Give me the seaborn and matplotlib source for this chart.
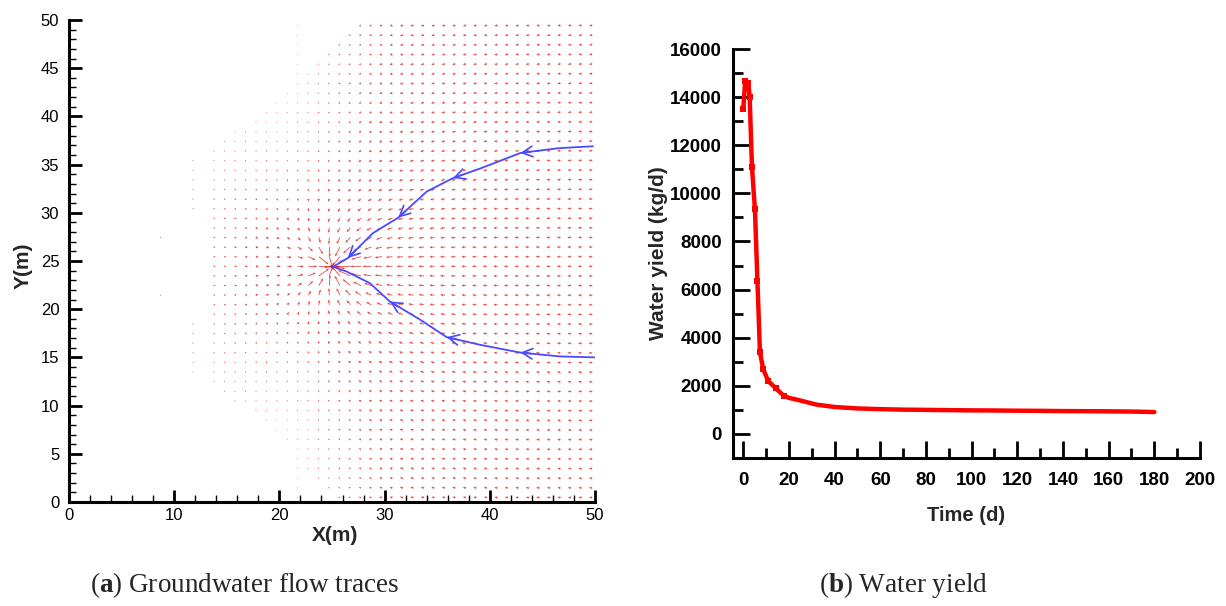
import numpy as np
import pandas as pd
import matplotlib
matplotlib.use("Agg")
import matplotlib.pyplot as plt
from matplotlib.ticker import MultipleLocator
import seaborn as sns

# ---------------- panel (b): water yield ----------------
time_d = [0, 0.8, 2.2, 2.8, 3.8, 5.1, 6.2, 7.3, 8.7, 10.9, 14.2, 17.8, 20, 25, 32,
          40, 50, 60, 70, 80, 90, 100, 110, 120, 130, 140, 150, 160, 170, 180]
yield_kgd = [13500, 14650, 14600, 14000, 11100, 9350, 6350, 3400, 2700, 2200, 1900,
             1580, 1500, 1390, 1220, 1120, 1060, 1030, 1010, 1000, 990, 980, 975,
             965, 960, 950, 945, 940, 930, 910]

# ---------------- panel (a): traced flow paths ----------------
upper_x = [49.8, 46.5, 42.9, 39.1, 36.5, 34.0, 32.4, 31.3, 28.9, 26.5, 25.1]
upper_y = [36.9, 36.7, 36.2, 34.6, 33.6, 32.2, 30.6, 29.5, 27.9, 25.3, 24.4]
upper_heads = [2, 4, 7, 9]
lower_x = [50.0, 46.7, 42.9, 39.1, 35.9, 33.4, 30.5, 28.6, 26.4, 25.1]
lower_y = [15.0, 15.1, 15.5, 16.3, 17.1, 18.9, 20.8, 22.7, 23.9, 24.4]
lower_heads = [2, 4, 6]

# mesh node columns (x position, lowest node y, highest node y)
mesh_col_x = [8.65, 8.65, 11.75, 11.75, 13.75, 14.75, 15.75, 16.75, 17.75, 18.75,
              19.75, 20.75, 21.75, 22.75, 23.75, 24.75, 25.75, 26.75, 27.75, 28.75,
              29.75, 30.75, 31.75, 32.75, 33.75, 34.75, 35.75, 36.75, 37.75, 38.75,
              39.75, 40.75, 41.75, 42.75, 43.75, 44.75, 45.75, 46.75, 47.75, 48.75,
              49.75]
mesh_col_ylo = [21.45, 27.45, 13.45, 30.45, 12.45, 11.45, 10.45, 10.45, 9.45, 8.45,
                7.45, 6.45, 0.45, 3.45, 2.45, 1.45, 0.45, 0.45, 0.45, 0.45,
                0.45, 0.45, 0.45, 0.45, 0.45, 0.45, 0.45, 0.45, 0.45, 0.45,
                0.45, 0.45, 0.45, 0.45, 0.45, 0.45, 0.45, 0.45, 0.45, 0.45, 0.45]
mesh_col_yhi = [21.45, 27.45, 18.45, 35.45, 36.45, 37.45, 38.45, 38.45, 39.45, 40.45,
                41.45, 42.45, 49.45, 44.45, 45.45, 46.45, 47.45, 48.45, 49.45, 49.45,
                49.45, 49.45, 49.45, 49.45, 49.45, 49.45, 49.45, 49.45, 49.45, 49.45,
                49.45, 49.45, 49.45, 49.45, 49.45, 49.45, 49.45, 49.45, 49.45, 49.45,
                49.45]

# pumping well and flow-field parameters
well_x, well_y = 25.1, 24.4
sink_strength = 2.2
regional_speed = 0.28
max_len = 1.5

# ---------------- style ----------------
sns.set_style("ticks")
plt.rcParams["font.family"] = ["Liberation Sans", "DejaVu Sans"]
plt.rcParams["mathtext.fontset"] = "custom"
plt.rcParams["mathtext.rm"] = "Liberation Serif"
plt.rcParams["mathtext.bf"] = "Liberation Serif:bold"

fig = plt.figure(figsize=(12.26, 6.06), dpi=100)
W, H = 1226, 606
axA = fig.add_axes([69 / W, 104 / H, 526 / W, 482 / H])
axB = fig.add_axes([733 / W, 148 / H, 467 / W, 409 / H])

# ---------------- panel (a) ----------------
nx, ny = [], []
for cx, lo, hi in zip(mesh_col_x, mesh_col_ylo, mesh_col_yhi):
    for yy in np.arange(lo, hi + 0.01, 1.0):
        nx.append(cx)
        ny.append(yy)
nx = np.array(nx)
ny = np.array(ny)
dx = nx - well_x
dy = ny - well_y
r2 = np.maximum(dx ** 2 + dy ** 2, 1e-6)
ramp = np.clip((nx - 18.0) / 14.0, 0, 1)
u = -sink_strength * dx / r2 - regional_speed * ramp
v = -sink_strength * dy / r2
mag = np.hypot(u, v)
fac = np.where(mag > max_len, max_len / np.maximum(mag, 1e-9), 1.0)
u, v = u * fac, v * fac

axA.quiver(nx, ny, u, v, angles="xy", scale_units="xy", scale=1,
           color="#e00000", alpha=0.7, width=0.0016, headwidth=3.2,
           headlength=3.5, headaxislength=3.0, minlength=0.6, zorder=2)

trace_color = "#4a4aff"
for xs, ys, heads in [(upper_x, upper_y, upper_heads), (lower_x, lower_y, lower_heads)]:
    df = pd.DataFrame({"x": xs, "y": ys})
    sns.lineplot(data=df, x="x", y="y", sort=False, estimator=None, ax=axA,
                 color=trace_color, lw=1.3, zorder=3)
    for i in heads:
        x0, y0 = xs[i], ys[i]
        x1, y1 = xs[i - 1], ys[i - 1]
        d = np.hypot(x1 - x0, y1 - y0)
        tx, ty = x0 + (x1 - x0) / d * 1.0, y0 + (y1 - y0) / d * 1.0
        axA.annotate("", xy=(x0, y0), xytext=(tx, ty),
                     arrowprops=dict(arrowstyle="->,head_length=0.75,head_width=0.38",
                                     color=trace_color, lw=1.2, shrinkA=0, shrinkB=0),
                     zorder=4)

axA.set_xlim(0, 50)
axA.set_ylim(0, 50)
axA.xaxis.set_major_locator(MultipleLocator(10))
axA.xaxis.set_minor_locator(MultipleLocator(2))
axA.yaxis.set_major_locator(MultipleLocator(5))
axA.yaxis.set_minor_locator(MultipleLocator(1))
axA.tick_params(which="major", direction="in", length=9, width=2, labelsize=12,
                colors="black")
axA.tick_params(which="minor", direction="in", length=5, width=1, colors="black")
axA.tick_params(axis="x", which="major", pad=4)
axA.tick_params(axis="y", which="major", pad=7)
for s in ["top", "right"]:
    axA.spines[s].set_visible(False)
for s in ["left", "bottom"]:
    axA.spines[s].set_linewidth(2.2)
    axA.spines[s].set_color("black")
axA.set_xlabel("X(m)", fontsize=15, fontweight="bold")
axA.set_ylabel("Y(m)", fontsize=15, fontweight="bold")
axA.xaxis.set_label_coords((335 - 69) / 526, (502 - 526) / 482)
axA.yaxis.set_label_coords((33 - 69) / 526, 0.49)

# ---------------- panel (b) ----------------
sns.lineplot(x=time_d, y=yield_kgd, ax=axB, color="red", lw=3.2, marker="s",
             markersize=4, markeredgewidth=0, markevery=list(range(12)),
             estimator=None, sort=False)
axB.set_xlim(-4.5, 200)
axB.set_ylim(-1000, 16000)
axB.xaxis.set_major_locator(MultipleLocator(20))
axB.xaxis.set_minor_locator(MultipleLocator(10))
axB.yaxis.set_major_locator(MultipleLocator(2000))
axB.yaxis.set_minor_locator(MultipleLocator(1000))
axB.tick_params(which="major", direction="in", length=12, width=2, labelsize=13.5,
                colors="black")
axB.tick_params(which="minor", direction="in", length=7, width=2, colors="black")
axB.tick_params(axis="x", which="major", pad=10)
axB.tick_params(axis="y", which="major", pad=8)
for lab in axB.get_xticklabels() + axB.get_yticklabels():
    lab.set_fontweight("bold")
for s in ["top", "right"]:
    axB.spines[s].set_visible(False)
for s in ["left", "bottom"]:
    axB.spines[s].set_linewidth(2.2)
    axB.spines[s].set_color("black")
axB.set_xlabel("Time (d)", fontsize=14.5, fontweight="bold")
axB.set_ylabel("Water yield (kg/d)", fontsize=15, fontweight="bold")
axB.xaxis.set_label_coords((966 - 733) / 467, (458 - 506) / 409)
axB.yaxis.set_label_coords((668 - 733) / 467, 0.5)

# ---------------- captions ----------------
fig.text(245 / W, 1 - 585 / H, r"($\mathbf{a}$) Groundwater flow traces",
         ha="center", va="center", fontsize=19.5, family="Liberation Serif")
fig.text(903 / W, 1 - 585 / H, r"($\mathbf{b}$) Water yield",
         ha="center", va="center", fontsize=19.5, family="Liberation Serif")

fig.savefig("out.png", dpi=100, facecolor="white")
